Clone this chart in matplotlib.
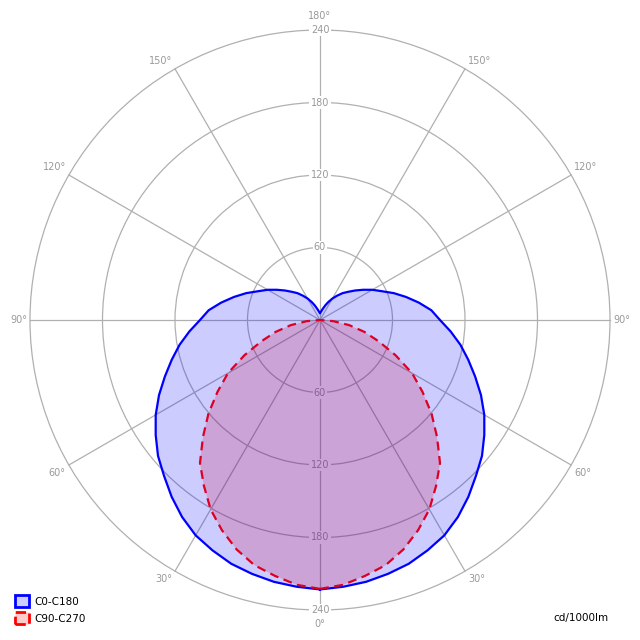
"""
Polar light distribution diagram (cd/1000lm) for two C-planes.
"""
import numpy as np
import matplotlib
matplotlib.use("Agg")
import matplotlib.pyplot as plt
from matplotlib.patches import Circle, Patch

# gamma angle from nadir, degrees
gamma_deg = np.arange(0, 181, 5)

c0_c180 = [223, 221.6, 220, 217.5, 214.7, 210.4, 205.8, 199, 191, 182.5,
           175, 166, 157, 147, 136.6, 127, 118, 108.5, 99.3, 92.5,
           83, 73.7, 65, 56.4, 50, 43.6, 38, 33, 29, 24.5,
           20.5, 16.5, 13, 10, 8, 6.5, 5.5]
c90_c270 = [222.5, 220, 215, 210, 202, 192, 181, 167.5, 154.5, 137,
            120.5, 103.5, 88, 69, 51.7, 38, 24.6, 11, 0, 0,
            0, 0, 0, 0, 0, 0, 0, 0, 0, 0,
            0, 0, 0, 0, 0, 0, 0]

ring_values = [60, 120, 180, 240]
spoke_angles = list(range(0, 360, 30))
series_labels = ["C0-C180", "C90-C270"]
unit_label = "cd/1000lm"

R_MAX = 240
PX_PER_CD = 290 / R_MAX
HALF = 320 / PX_PER_CD

GRID = "#b0b0b0"
LABEL = "#999999"


def closed_curve(values):
    g = np.radians(gamma_deg)
    r = np.asarray(values, dtype=float)
    x_right, y_right = r * np.sin(g), -r * np.cos(g)
    x = np.concatenate([x_right, -x_right[::-1]])
    y = np.concatenate([y_right, y_right[::-1]])
    return x, y


fig = plt.figure(figsize=(6.4, 6.4), dpi=100)
ax = fig.add_axes([0, 0, 1, 1])
ax.set_xlim(-HALF, HALF)
ax.set_ylim(-HALF, HALF)
ax.set_aspect("equal")
ax.axis("off")

# grid
for rv in ring_values:
    ax.add_patch(Circle((0, 0), rv, fill=False, edgecolor=GRID, linewidth=0.9, zorder=1))
for a in spoke_angles:
    t = np.radians(a)
    ax.plot([0, R_MAX * np.sin(t)], [0, -R_MAX * np.cos(t)], color=GRID, linewidth=0.9, zorder=1)

# ring value labels on the vertical axis
for rv in ring_values:
    for sgn in (1, -1):
        ax.text(0, sgn * rv, str(rv), ha="center", va="center", fontsize=7, color=LABEL,
                bbox=dict(facecolor="white", edgecolor="none", pad=1.0), zorder=2)

# angle labels at the spoke ends
for a in range(0, 181, 30):
    t = np.radians(a)
    for side in ((1, -1) if 0 < a < 180 else (1,)):
        x, y = side * R_MAX * np.sin(t), -R_MAX * np.cos(t)
        if a == 0:
            ha, va, off = "center", "top", (0, -9)
        elif a == 180:
            ha, va, off = "center", "bottom", (0, 9)
        else:
            ha = "left" if side > 0 else "right"
            va = "top" if a < 90 else ("bottom" if a > 90 else "center")
            dy = 3 if a > 90 else (-3 if a < 90 else 0)
            off = (3 * side, dy)
        ax.annotate(f"{a}°", xy=(x, y), xytext=off, textcoords="offset pixels",
                    ha=ha, va=va, fontsize=7, color=LABEL)

# curves: red fill first, blue fill over it
bx, by = closed_curve(c0_c180)
rx, ry = closed_curve(c90_c270)
ax.fill(rx, ry, color=(1, 0, 0, 0.2), linewidth=0, zorder=3)
ax.fill(bx, by, color=(0, 0, 1, 0.2), linewidth=0, zorder=3)
ax.plot(bx, by, color="#0000ff", linewidth=1.6, zorder=4)
ax.plot(rx, ry, color="#dd0022", linewidth=1.6, linestyle=(0, (4, 2.5)), zorder=5)

handles = [
    Patch(facecolor="#ccccff", edgecolor="#0000ff", linewidth=2),
    Patch(facecolor="#ffcccc", edgecolor="#ff0000", linewidth=2, linestyle="--"),
]
ax.legend(handles, series_labels, loc="lower left", bbox_to_anchor=(15 / 640, 16 / 640),
          frameon=False, fontsize=7.5, borderpad=0, borderaxespad=0,
          handlelength=1.35, handleheight=1.35, handletextpad=0.55, labelspacing=0.5)

ax.text(608 / 640, 22 / 640, unit_label, transform=ax.transAxes, ha="right", va="center",
        fontsize=7.5, color="black")

fig.savefig("out.png", dpi=100)
